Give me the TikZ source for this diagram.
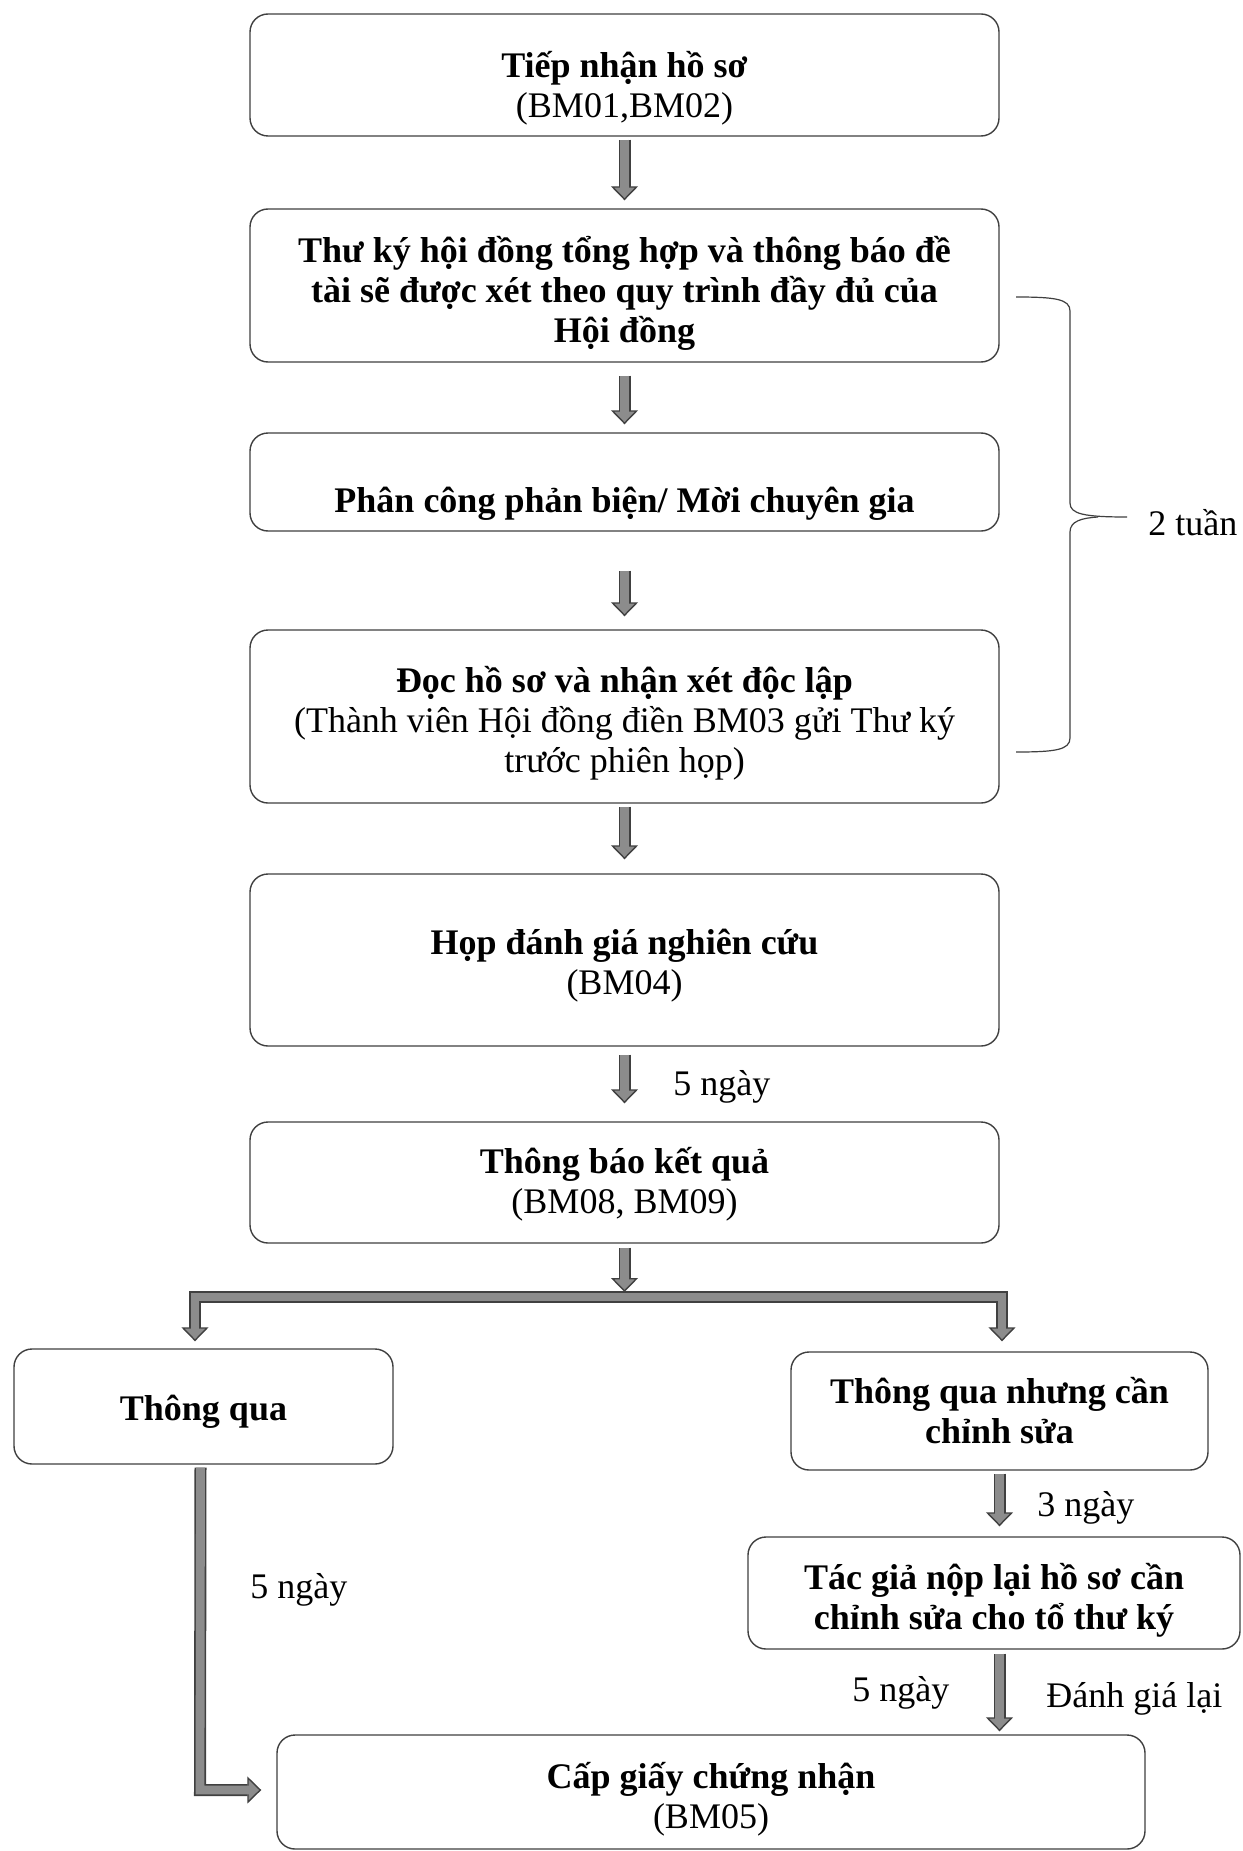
\documentclass[tikz,border=0pt]{standalone}
\usepackage{fontspec}
\setmainfont{Liberation Serif}
\usetikzlibrary{arrows.meta,calc}
\tikzset{
  BA/.tip={Triangle[length=7pt,width=13.5pt,line width=0.7pt,fill=black!45]},
  box/.style={draw=black!75, line width=0.7pt, rounded corners=9pt, inner sep=0pt},
  txt/.style={align=center, inner sep=0pt, font=\fontsize{18}{20}\selectfont},
  lbl/.style={font=\fontsize{18}{20}\selectfont, inner sep=0pt},
  blk/.style={draw=black!75, line width=6pt, line join=miter, -BA,
    postaction={draw=black!45, line width=4.4pt, -, shorten >=6pt}},
  blkb/.style={draw=black!75, line width=6pt, line join=miter, BA-BA,
    postaction={draw=black!45, line width=4.4pt, -, shorten >=6pt, shorten <=6pt}},
  brace/.style={draw=black!75, line width=0.6pt}
}
\begin{document}
\begin{tikzpicture}[x=0.5pt,y=-0.5pt]
\useasboundingbox[fill=white] (0,0) rectangle (1242,1851);

% box frames
\node[box, minimum width=374.5pt, minimum height=61pt] (b1) at (624.5,75) {};
\node[box, minimum width=374.5pt, minimum height=76.5pt] (b2) at (624.5,285.5) {};
\node[box, minimum width=374.5pt, minimum height=49pt] (b3) at (624.5,482) {};
\node[box, minimum width=374.5pt, minimum height=86.5pt] (b4) at (624.5,716.5) {};
\node[box, minimum width=374.5pt, minimum height=86pt] (b5) at (624.5,960) {};
\node[box, minimum width=374.5pt, minimum height=60.5pt] (b6) at (624.5,1182.5) {};
\node[box, minimum width=189.5pt, minimum height=57.5pt] (b7) at (203.5,1406.5) {};
\node[box, minimum width=208.5pt, minimum height=59pt] (b8) at (999.5,1411) {};
\node[box, minimum width=246pt, minimum height=56pt] (b9) at (994,1593) {};
\node[box, minimum width=434pt, minimum height=57pt] (b10) at (711,1792) {};

% box texts
\node[txt] (t1) at ($(b1)+(0,13)$) {\textbf{Tiếp nhận hồ sơ}\\(BM01,BM02)};
\node[txt] (t2) at ($(b2)+(0,8)$)
  {\textbf{Thư ký hội đồng tổng hợp và thông báo đề}\\\textbf{tài sẽ được xét theo quy trình đầy đủ của}\\\textbf{Hội đồng}};
\node[txt] (t3) at ($(b3)+(0,22)$) {\textbf{Phân công phản biện/ Mời chuyên gia}};
\node[txt] (t4) at ($(b4)+(0,7)$)
  {\textbf{Đọc hồ sơ và nhận xét độc lập}\\(Thành viên Hội đồng điền BM03 gửi Thư ký\\trước phiên họp)};
\node[txt] (t5) at ($(b5)+(0,6)$) {\textbf{Họp đánh giá nghiên cứu}\\(BM04)};
\node[txt] (t6) at ($(b6)+(0,2)$) {\textbf{Thông báo kết quả}\\(BM08, BM09)};
\node[txt] (t7) at ($(b7)+(0,5)$) {\textbf{Thông qua}};
\node[txt] (t8) at (b8) {\textbf{Thông qua nhưng cần}\\\textbf{chỉnh sửa}};
\node[txt] (t9) at ($(b9)+(0,7)$) {\textbf{Tác giả nộp lại hồ sơ cần}\\\textbf{chỉnh sửa cho tổ thư ký}};
\node[txt] (t10) at ($(b10)+(0,7)$) {\textbf{Cấp giấy chứng nhận}\\(BM05)};

% labels
\node[lbl, anchor=west] (l1) at (673,1087) {5 ngày};
\node[lbl, anchor=west] (l2) at (1037,1508) {3 ngày};
\node[lbl, anchor=west] (l3) at (250,1590) {5 ngày};
\node[lbl, anchor=west] (l4) at (852,1693) {5 ngày};
\node[lbl, anchor=west] (l5) at (1046,1699) {Đánh giá lại};
\node[lbl, anchor=west] (l6) at (1148,523) {2 tuần};

% main vertical arrows
\draw[blk] ($(b1.south)+(0,3)$) -- ($(b2.north)+(0,-8)$);
\draw[blk] ($(b2.south)+(0,13)$) -- ($(b3.north)+(0,-8)$);
\draw[blk] ($(b3.south)+(0,39)$) -- ($(b4.north)+(0,-13)$);
\draw[blk] ($(b4.south)+(0,3)$) -- ($(b5.north)+(0,-14)$);
\draw[blk] ($(b5.south)+(0,8)$) -- ($(b6.north)+(0,-18)$);

% branch
\coordinate (brL) at (195,1297);
\coordinate (brR) at (1002,1297);
\draw[blkb] ($(brL |- b7.north)+(0,-7)$) -- (brL) -- (brR) -- ($(brR |- b8.north)+(0,-10)$);
\draw[blk] ($(b6.south)+(0,4)$) -- ($(b6.south |- brL)+(0,-5)$);

% right column
\draw[blk] ($(b8.south)+(0,3)$) -- ($(b8.south |- b9.north)+(0,-10)$);
\draw[blk] ($(b8.south |- b9.south)+(0,4)$) -- ($(b8.south |- b10.north)+(0,-3)$);

% left L connector
\coordinate (lc) at (200,1790);
\draw[blk] ($(b7.south)+(-3,3)$) -- (lc) -- ($(b10.west |- lc)+(-15,0)$);

% brace for 2 tuan
\draw[brace] (1016,297) .. controls (1055,297) and (1070,299) .. (1070,311)
  -- (1070,503) .. controls (1070,514) and (1084,517) .. (1127,517);
\draw[brace] (1098,517) .. controls (1082,518) and (1070,521) .. (1070,532)
  -- (1070,738) .. controls (1070,750) and (1055,752) .. (1016,752);
\end{tikzpicture}
\end{document}
